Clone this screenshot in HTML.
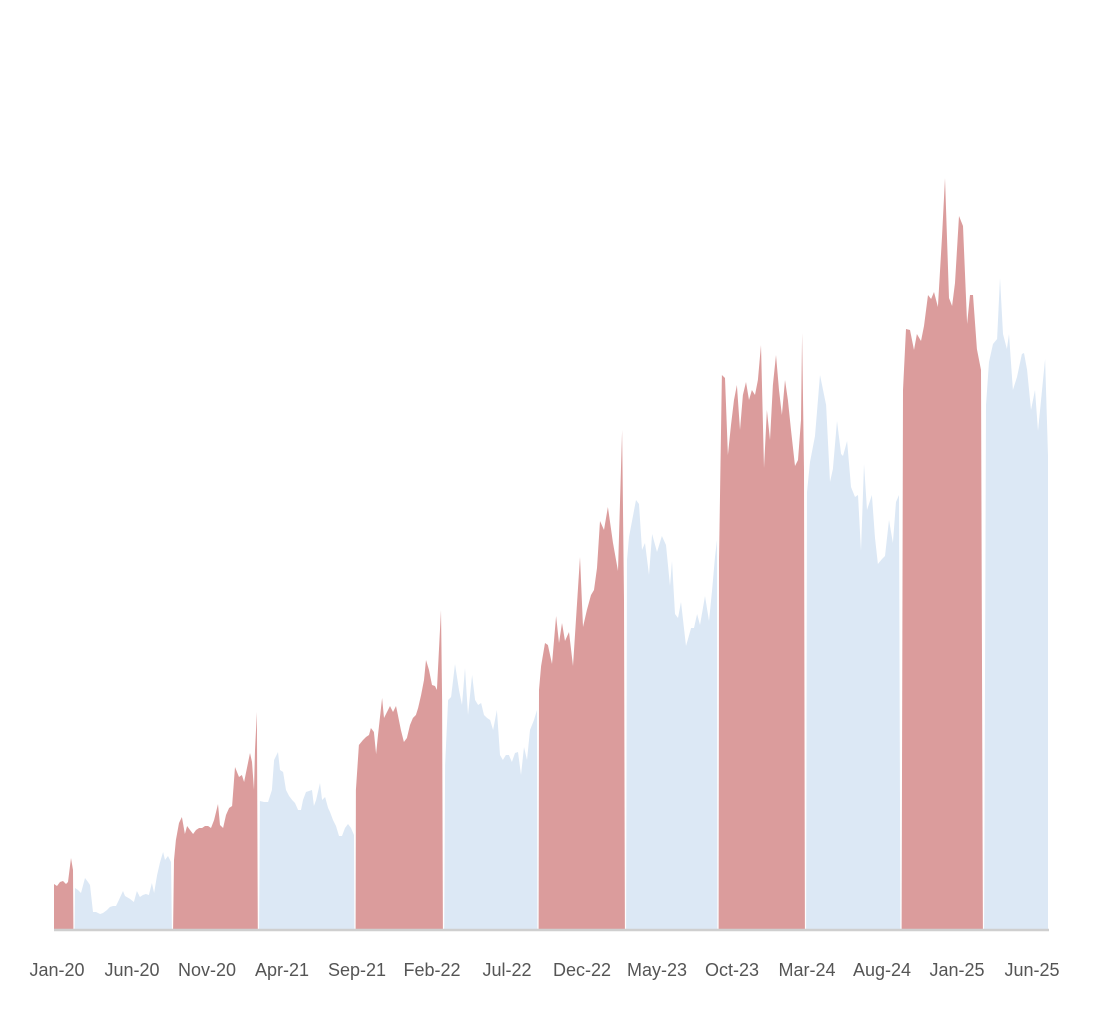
<!DOCTYPE html>
<html><head><meta charset="utf-8"><style>
html,body{margin:0;padding:0;background:#fff;width:1104px;height:1012px;overflow:hidden}
svg{display:block}
text{font-family:"Liberation Sans Narrow","Liberation Sans",sans-serif;font-size:18px;fill:#555}
</style></head><body>
<svg id="chart" width="1104" height="1012" viewBox="0 0 1104 1012"></svg>
<script>
const months = [-0.2,0,0.2,0.4,0.6,0.73,0.93,1.07,1.2,1.4,1.6,1.87,2.07,2.2,2.4,2.6,2.87,3.07,3.33,3.53,3.73,3.93,4.13,4.4,4.53,4.87,5.13,5.33,5.53,5.73,5.93,6.13,6.33,6.47,6.67,6.87,7.07,7.2,7.4,7.6,
7.8,7.93,8.13,8.33,8.53,8.67,8.87,9.07,9.27,9.47,9.67,9.87,10.07,10.27,10.47,10.73,10.87,11.07,11.27,11.47,11.67,11.87,12.13,12.33,12.47,12.87,13,13.13,13.2,13.33,
13.53,13.8,14.07,14.33,14.47,14.73,14.87,15.07,15.27,15.47,15.67,15.87,16.07,16.27,16.4,16.6,16.8,17,17.13,17.27,17.53,17.67,17.87,18.07,18.2,18.4,18.6,18.8,19,19.2,19.4,19.6,19.8,
19.93,20.13,20.4,20.6,20.8,20.93,21.13,21.27,21.4,21.67,21.8,22,22.2,22.4,22.6,22.73,22.93,23.13,23.33,23.53,23.73,23.93,24.07,24.27,24.47,24.6,24.8,25,25.2,25.33,25.6,25.67,
25.87,26.07,26.27,26.53,26.8,27,27.2,27.4,27.67,27.87,28.07,28.27,28.47,28.67,28.87,29.07,29.33,29.53,29.73,29.93,30.13,30.33,30.53,30.73,30.93,31.13,31.33,31.53,31.8,32,
32.13,32.27,32.53,32.73,33,33.27,33.47,33.67,33.87,34.13,34.4,34.87,35.07,35.33,35.6,35.8,36,36.2,36.47,36.73,37.07,37.4,37.67,37.8,
38,38.13,38.6,38.8,39,39.2,39.47,39.67,40,40.33,40.6,40.87,41,41.2,41.4,41.6,41.93,42.27,42.47,42.67,42.87,43.2,43.47,43.67,43.87,44,
44.13,44.33,44.53,44.73,44.93,45.13,45.33,45.53,45.73,45.93,46.13,46.33,46.53,46.73,46.93,47.13,47.33,47.53,47.73,47.93,48.13,48.33,48.53,48.73,48.93,49.2,49.4,49.6,49.67,49.8,
50,50.2,50.53,50.87,51.27,51.53,51.73,52,52.27,52.4,52.67,52.93,53.2,53.4,53.6,53.8,54,54.33,54.53,54.73,55,55.2,55.47,55.73,55.93,56.13,
56.4,56.6,56.87,57.13,57.33,57.6,57.8,58.07,58.27,58.47,58.73,59,59.2,59.47,59.67,59.87,60.13,60.4,60.67,60.87,61.07,61.33,61.6,
61.93,62.13,62.4,62.67,62.87,63.07,63.33,63.47,63.73,64,64.33,64.47,64.67,64.93,65.2,65.4,65.87,66.07];
const values = [9,8.6,9.4,9.6,9,9.4,14.2,11.8,8.2,7.8,7.2,10.2,9.4,8.8,3.4,3.4,3,3.2,3.8,4.4,4.6,4.6,5.8,7.6,6.6,6,5.4,7.6,6.4,6.8,7,6.8,9.2,7.2,10.8,13.4,15.4,13.8,14.6,13.4,
13.8,17.8,21.2,22.4,19,20.6,19.8,19,19.8,20.2,20.2,20.6,20.6,20.2,21.8,25,20.8,20.2,22.8,24.2,24.6,32.4,30.4,30.8,29.4,35.2,33.4,27.8,35.8,43.4,
25.6,25.4,25.4,27.8,33.8,35.4,31.8,31.4,27.8,26.6,25.8,25.2,23.8,23.8,25.8,27.4,27.6,27.8,24.6,25.8,29.2,25.8,26.4,24.2,23.4,21.8,20.6,18.6,18.6,20.2,21,20.2,18.8,
27.8,36.8,37.8,38.4,38.8,40.2,39.4,35,38.8,46.2,42.2,43.4,44.6,43.4,44.6,42.8,39.8,37.4,38.2,40.8,42.2,42.8,44.2,46.8,49.8,53.8,51.8,48.8,48.6,47.8,63.8,45.8,
32.8,45.8,46.4,53,47.8,44.8,52.2,42.8,50.8,45.8,44.8,45.2,42.8,42.2,41.8,39.8,43.8,34.8,33.8,34.8,34.8,33.4,35.2,35.4,30.8,36.4,33.8,39.8,41.8,43.8,
47.8,52.6,57.2,56.8,53,62.6,57.2,61.2,57.6,59.4,52.6,74.4,60.4,63.8,66.8,67.8,72.2,81.6,79.8,84.4,77.2,71.6,99.8,65.8,
73.8,78.4,85.8,85,75.8,77.2,70.8,79,75.4,78.6,76.8,68.6,73.6,63,62.2,65.4,56.6,60.2,60.2,63,60.8,66.6,61.6,67.8,74.4,77.8,
73.8,110.8,110.2,94.8,100.8,105.8,108.8,99.8,106.8,109.4,105.8,107.8,106.8,109.8,116.8,92.2,103.8,97.8,108.8,114.8,107.8,102.8,109.8,105.8,99.8,92.6,93.8,101.8,119.2,91.8,
87.4,93.4,98.6,110.8,104.8,89.4,92,101.6,95,94.6,97.6,88.4,86.4,86.8,75.6,93,83.8,86.8,78.2,73,74,74.6,81.8,77.2,85.4,86.8,
107.8,120,119.8,115.8,119,117.6,120.6,126.8,126,127.4,124.4,138.4,150.2,126.2,124.6,129.2,142.6,140.6,121,126.8,126.8,116,111.8,
104.8,113.4,117,118,130.2,119,116,119,107.8,110.4,115,115.2,111.8,103.8,107.8,99.6,114,94.6];
const seasonStart = [-0.3,7.73,19.87,32.07,44.07,56.2];
const seasonEnd = [1.13,13.4,25.73,37.87,49.93,61.73];
const tickMonths = [0,5,10,15,20,25,30,35,40,45,50,55,60,65];
const tickLabels = ["Jan-20","Jun-20","Nov-20","Apr-21","Sep-21","Feb-22","Jul-22","Dec-22","May-23","Oct-23","Mar-24","Aug-24","Jan-25","Jun-25"];

const NS = "http://www.w3.org/2000/svg";
const svg = document.getElementById("chart");
const xScale = t => 57 + t * 15;
const BASE = 929;
const yScale = v => BASE - v * 5;
function inSeason(t){ for(let i=0;i<seasonStart.length;i++){ if(t>=seasonStart[i]&&t<=seasonEnd[i]) return i; } return -1; }

const runs = [];
let cur = null;
for(let i=0;i<months.length;i++){
  const s = inSeason(months[i]) >= 0;
  if(!cur || cur.red !== s){ cur = {red:s, idx:[]}; runs.push(cur); }
  cur.idx.push(i);
}
runs.forEach((r,k)=>{
  const first = r.idx[0], last = r.idx[r.idx.length-1];
  const startX = k>0 ? (xScale(months[first-1])+xScale(months[first]))/2 + 0.6 : xScale(months[first]);
  const endX = k<runs.length-1 ? (xScale(months[last])+xScale(months[last+1]))/2 - 0.6 : xScale(months[last]);
  let d = "M" + startX.toFixed(1) + "," + BASE;
  r.idx.forEach(i=>{ d += " L" + xScale(months[i]).toFixed(1) + "," + yScale(values[i]).toFixed(1); });
  d += " L" + endX.toFixed(1) + "," + BASE + " Z";
  const p = document.createElementNS(NS,"path");
  p.setAttribute("d", d);
  p.setAttribute("fill", r.red ? "#db9c9c" : "#dce8f5");
  
  
  svg.appendChild(p);
});

const axis = document.createElementNS(NS,"line");
axis.setAttribute("x1", 54); axis.setAttribute("x2", 1049);
axis.setAttribute("y1", BASE+1); axis.setAttribute("y2", BASE+1);
axis.setAttribute("stroke", "#cfcfcf"); axis.setAttribute("stroke-width", 2.5);


svg.appendChild(axis);

tickMonths.forEach((m,i)=>{
  const t = document.createElementNS(NS,"text");
  t.setAttribute("x", xScale(m)); t.setAttribute("y", 976);
  t.setAttribute("text-anchor", "middle");
  t.textContent = tickLabels[i];
  
  
  svg.appendChild(t);
});
</script>
</body></html>
